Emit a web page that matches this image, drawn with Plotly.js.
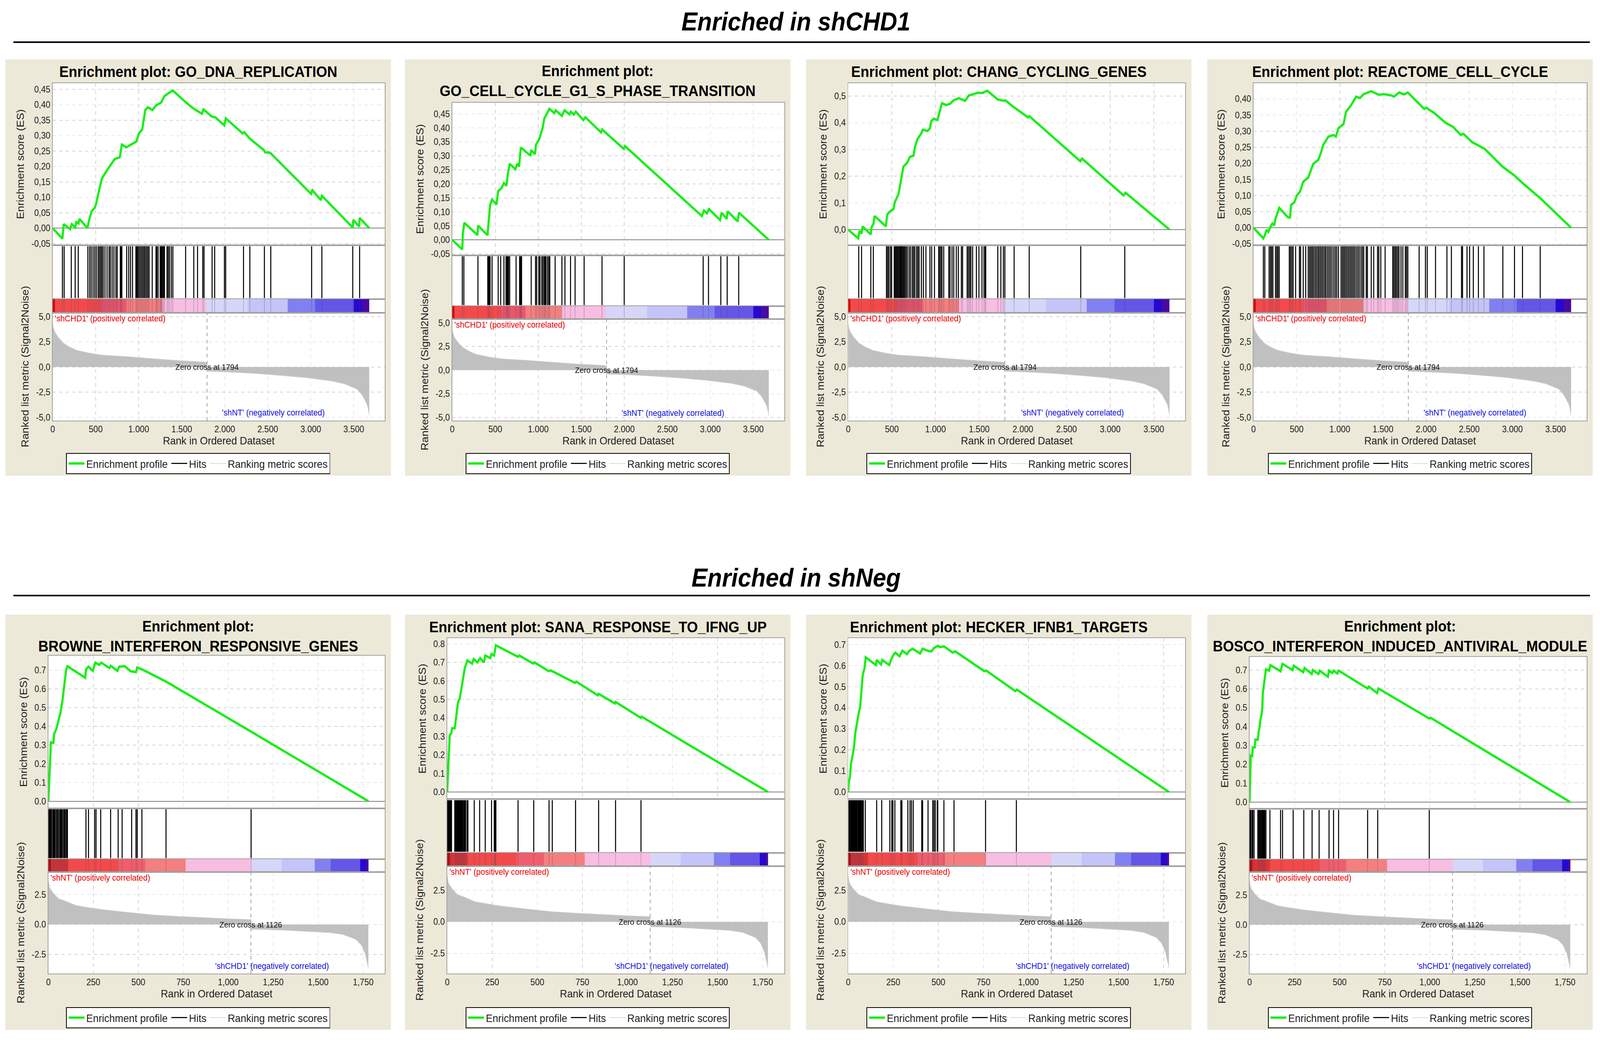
<!DOCTYPE html>
<html>
<head>
<meta charset="utf-8">
<script src="https://cdn.plot.ly/plotly-3.0.1.min.js"></script>
<style>
html, body { margin: 0; padding: 0; background: #fff; overflow: hidden; }
#chart { width: 4433px; height: 2681px; transform-origin: 0 0; }
</style>
</head>
<body>
<div id="chart"></div>
<script>
// ---- data ----
const sectionTitles = ['Enriched in shCHD1', 'Enriched in shNeg'];
const setNames = ['GO_DNA_REPLICATION', 'GO_CELL_CYCLE_G1_S_PHASE_TRANSITION', 'CHANG_CYCLING_GENES', 'REACTOME_CELL_CYCLE',
  'BROWNE_INTERFERON_RESPONSIVE_GENES', 'SANA_RESPONSE_TO_IFNG_UP', 'HECKER_IFNB1_TARGETS', 'BOSCO_INTERFERON_INDUCED_ANTIVIRAL_MODULE'];

// ranked list metric (same list for every panel of a row)
const rankTop = [0, 8, 24, 68, 128, 187, 276, 424, 572, 869, 1165, 1462, 1759, 1794, 1794, 2055, 2352, 2648, 2945, 3241, 3390, 3538, 3597, 3656, 3670, 3680];
const metricTop = [4.3, 3.9, 3.5, 2.9, 2.36, 2.03, 1.67, 1.39, 1.19, 1.03, 0.83, 0.64, 0.5, 0.45, -0.42, -0.5, -0.64, -0.83, -1.06, -1.39, -1.67, -2.2, -2.78, -3.75, -4.3, -4.8];
const rankBot = [0, 7, 28, 57, 99, 155, 226, 297, 438, 580, 721, 862, 1004, 1126, 1126, 1286, 1428, 1569, 1640, 1710, 1739, 1760, 1774, 1779];
const metricBot = [3.64, 3.07, 2.6, 2.16, 1.93, 1.59, 1.41, 1.25, 1.02, 0.8, 0.68, 0.57, 0.48, 0.41, -0.39, -0.45, -0.57, -0.68, -0.84, -1.25, -1.7, -2.39, -3.3, -3.64];
const zeroCross = [1794, 1126];
const posLabels = ["'shCHD1' (positively correlated)", "'shNT' (positively correlated)"];
const negLabels = ["'shNT' (negatively correlated)", "'shCHD1' (negatively correlated)"];

// colour bar bands (rank edges)
const bandEdgesTop = [0, 24, 560, 850, 1270, 1785, 2265, 2730, 3050, 3500, 3595, 3680];
const bandEdgesBot = [0, 14, 110, 385, 537, 763, 1127, 1296, 1480, 1569, 1734, 1767, 1779];

// running enrichment scores
const es1R = [0,113,128,202,222,261,276,300,311,403,424,454,489,504,528,572,632,691,721,780,804,854,913,973,1002,1041,1076,1106,1160,1201,1260,1299,1343,1397,1551,1640,1735,1753,1848,1892,1996,2011,2209,2227,2292,2455,2470,2530,3004,3019,3117,3129,3488,3494,3562,3568,3680];
const es1S = [0,-0.034,0.013,-0.003,0.013,0.002,0.02,0.015,0.03,0.0,0.027,0.056,0.066,0.078,0.109,0.161,0.188,0.212,0.224,0.23,0.271,0.262,0.271,0.281,0.307,0.32,0.383,0.392,0.383,0.398,0.407,0.428,0.437,0.446,0.407,0.387,0.371,0.385,0.362,0.359,0.333,0.356,0.307,0.311,0.29,0.253,0.246,0.244,0.111,0.123,0.091,0.105,0.002,0.027,0.005,0.033,0];
const es2R = [0,117,123,141,293,299,410,425,440,463,513,534,572,601,630,645,668,733,756,777,797,909,917,962,973,1011,1050,1070,1129,1187,1202,1275,1305,1363,1378,1413,1437,1524,1548,1730,1744,1994,2008,2902,2926,2961,2984,3113,3131,3190,3201,3319,3333,3680];
const es2S = [0,-0.034,0.022,0.061,0.017,0.051,0.017,0.075,0.125,0.144,0.126,0.174,0.185,0.203,0.193,0.232,0.272,0.252,0.272,0.262,0.33,0.301,0.321,0.306,0.34,0.36,0.399,0.433,0.468,0.453,0.463,0.443,0.463,0.448,0.458,0.448,0.458,0.428,0.438,0.384,0.394,0.325,0.335,0.085,0.105,0.095,0.11,0.071,0.097,0.075,0.102,0.066,0.097,0];
const es3R = [0,115,130,153,164,259,268,288,302,432,446,475,518,533,576,605,633,677,705,749,763,792,835,855,907,936,950,979,1022,1074,1123,1166,1209,1267,1339,1382,1483,1540,1592,1713,1785,1800,1886,2059,2073,2658,2678,3153,3176,3680];
const es3S = [0,-0.033,-0.005,-0.015,0.012,-0.018,0.01,0.02,0.051,0.012,0.056,0.067,0.077,0.102,0.133,0.184,0.236,0.251,0.272,0.277,0.307,0.338,0.359,0.374,0.369,0.379,0.405,0.415,0.41,0.473,0.466,0.471,0.484,0.492,0.482,0.502,0.512,0.512,0.52,0.487,0.482,0.484,0.461,0.42,0.425,0.256,0.266,0.128,0.138,0];
const es4R = [0,114,131,152,172,196,219,240,254,298,400,424,435,473,502,540,576,634,692,751,780,809,868,926,955,984,1043,1072,1131,1189,1233,1277,1364,1452,1510,1598,1627,1686,1744,1788,1978,2001,2095,2226,2314,2401,2431,2533,2679,2884,3015,3117,3322,3680];
const es4S = [0,-0.033,-0.023,-0.006,-0.013,0.003,0.013,0.007,0.028,0.062,0.032,0.032,0.071,0.079,0.1,0.113,0.143,0.156,0.198,0.211,0.232,0.258,0.283,0.288,0.283,0.309,0.322,0.36,0.381,0.407,0.403,0.415,0.424,0.413,0.415,0.411,0.407,0.42,0.414,0.42,0.369,0.373,0.356,0.326,0.313,0.288,0.292,0.266,0.245,0.19,0.164,0.139,0.092,0];
const es5R = [0,4,10,14,28,32,45,57,68,78,85,92,99,106,205,209,223,247,261,283,294,339,346,384,393,424,459,487,494,523,657,1123,1779];
const es5S = [0,0.094,0.241,0.315,0.312,0.359,0.388,0.44,0.476,0.535,0.594,0.668,0.704,0.722,0.66,0.704,0.719,0.697,0.741,0.729,0.741,0.712,0.724,0.697,0.719,0.722,0.694,0.69,0.715,0.704,0.638,0.374,0];
const es6R = [0,4,8,14,22,28,42,46,53,60,70,81,91,98,112,138,147,168,183,204,211,239,246,260,270,393,400,477,484,562,576,709,716,835,840,930,934,1074,1078,1779];
const es6S = [0,0.092,0.181,0.307,0.315,0.344,0.344,0.374,0.433,0.485,0.507,0.567,0.619,0.671,0.711,0.693,0.718,0.7,0.723,0.7,0.737,0.723,0.745,0.737,0.792,0.73,0.737,0.693,0.7,0.653,0.656,0.589,0.596,0.522,0.53,0.478,0.486,0.4,0.407,0];
const es7R = [0,4,10,15,24,32,39,49,57,66,74,81,91,97,154,158,182,189,228,238,252,262,285,301,327,336,357,399,413,441,462,476,497,510,531,580,594,755,765,927,936,1779];
const es7S = [0,0.048,0.074,0.133,0.172,0.211,0.277,0.335,0.368,0.401,0.499,0.557,0.59,0.64,0.603,0.627,0.606,0.627,0.603,0.629,0.653,0.662,0.645,0.671,0.655,0.668,0.681,0.658,0.681,0.671,0.668,0.684,0.695,0.688,0.692,0.662,0.668,0.574,0.577,0.479,0.486,0];
const es8R = [0,4,7,15,18,29,32,46,50,56,60,67,71,74,81,85,91,109,116,172,183,239,245,298,305,345,351,382,389,435,440,459,466,487,494,655,662,708,715,997,1004,1779];
const es8S = [0,0.131,0.247,0.244,0.29,0.29,0.331,0.331,0.37,0.399,0.435,0.464,0.501,0.581,0.624,0.653,0.704,0.697,0.726,0.694,0.733,0.7,0.723,0.689,0.711,0.679,0.7,0.679,0.697,0.665,0.697,0.685,0.697,0.682,0.697,0.602,0.612,0.578,0.602,0.443,0.447,0];

// hit positions (rank of each gene of the set)
const hits1 = [113,133,216,261,297,409,430,448,469,489,507,528,543,558,572,587,608,632,655,670,691,712,735,750,786,795,804,860,884,905,928,967,979,988,1002,1017,1032,1047,1062,1076,1091,1106,1121,1157,1201,1210,1225,1249,1260,1269,1278,1290,1299,1329,1343,1358,1379,1397,1545,1640,1684,1744,1759,1853,1883,1996,2011,2218,2292,2461,2535,3010,3129,3488,3568];
const hits2 = [117,135,299,413,422,431,440,463,534,563,601,625,636,645,654,668,742,783,791,800,806,918,968,982,1006,1020,1041,1055,1070,1079,1090,1108,1123,1134,1196,1275,1310,1375,1428,1533,1741,1999,2917,2979,3122,3196,3330];
const hits3 = [121,153,259,288,438,452,466,484,498,527,538,550,561,573,585,596,605,613,625,636,648,662,677,697,714,734,749,763,783,798,812,838,861,890,936,956,988,1037,1045,1060,1074,1094,1152,1166,1189,1209,1238,1261,1296,1310,1362,1376,1391,1405,1425,1468,1497,1532,1555,1569,1575,1713,1748,1777,1794,1900,2073,2663,3167];
const hits4 = [114,131,181,196,210,225,254,269,283,298,415,429,444,459,488,532,546,576,605,634,650,665,680,695,712,728,745,760,776,792,808,825,840,858,875,892,910,930,948,965,985,1014,1030,1045,1060,1076,1092,1108,1124,1140,1156,1172,1190,1208,1225,1245,1262,1277,1306,1320,1364,1393,1437,1452,1475,1525,1613,1627,1642,1656,1671,1686,1709,1730,1759,1773,1788,1919,1992,2013,2109,2241,2293,2410,2422,2474,2504,2547,2606,2670,2889,3024,3117,3322];
const hits5 = [3,7,11,14,17,24,28,33,38,45,51,57,64,68,73,78,85,90,96,102,106,209,223,257,265,291,346,388,410,463,487,494,520,654,1127];
const hits6 = [3,7,11,15,20,24,42,46,51,55,59,63,67,72,76,81,84,88,93,98,102,110,115,150,180,211,246,261,265,267,270,393,480,565,583,712,840,934,1075];
const hits7 = [4,8,13,17,21,25,29,34,38,42,46,50,55,59,63,67,71,76,80,84,95,158,186,231,242,248,259,292,298,331,343,351,361,408,413,443,469,476,483,494,497,531,587,762,933];
const hits8 = [3,7,14,18,25,46,50,55,60,64,69,73,77,81,85,91,113,172,183,242,301,347,386,441,466,494,655,711,997];

// tick labels as printed on the figure
const xTicksTop = [0, 500, 1000, 1500, 2000, 2500, 3000, 3500];
const xLabelsTop = ['0', '500', '1.000', '1.500', '2.000', '2.500', '3.000', '3.500'];
const xTicksBot = [0, 250, 500, 750, 1000, 1250, 1500, 1750];
const xLabelsBot = ['0', '250', '500', '750', '1,000', '1,250', '1,500', '1,750'];
const esTicksA = [-0.05, 0, 0.05, 0.1, 0.15, 0.2, 0.25, 0.3, 0.35, 0.4, 0.45];
const esLabelsA = ['-0,05', '0,00', '0,05', '0,10', '0,15', '0,20', '0,25', '0,30', '0,35', '0,40', '0,45'];
const esTicksB = [0, 0.1, 0.2, 0.3, 0.4, 0.5];
const esLabelsB = ['0,0', '0,1', '0,2', '0,3', '0,4', '0,5'];
const esTicksC = [-0.05, 0, 0.05, 0.1, 0.15, 0.2, 0.25, 0.3, 0.35, 0.4];
const esLabelsC = ['-0,05', '0,00', '0,05', '0,10', '0,15', '0,20', '0,25', '0,30', '0,35', '0,40'];
const esTicksD = [0, 0.1, 0.2, 0.3, 0.4, 0.5, 0.6, 0.7];
const esLabelsD = ['0.0', '0.1', '0.2', '0.3', '0.4', '0.5', '0.6', '0.7'];
const esTicksE = [0, 0.1, 0.2, 0.3, 0.4, 0.5, 0.6, 0.7, 0.8];
const esLabelsE = ['0.0', '0.1', '0.2', '0.3', '0.4', '0.5', '0.6', '0.7', '0.8'];
const mTicksTop = [-5, -2.5, 0, 2.5, 5];
const mLabelsTop = ['-5,0', '-2,5', '0,0', '2,5', '5,0'];
const mTicksBot = [-2.5, 0, 2.5];
const mLabelsBot = ['-2.5', '0.0', '2.5'];

// ---- styling / layout ----
const W = 4433, H = 2681;
const px = x => x / W;
const py = y => 1 - y / H;
const FONT = 'Liberation Sans, Arial, Helvetica, sans-serif';
const bandColorsTop = ['#d00000', '#f24a4a', '#e8566a', '#f47f7f', '#f8bde2', '#d6d6f8', '#c4c4f8', '#8080f0', '#6456e6', '#2808d0', '#4a0aa0'];
const bandColorsBot = ['#c80000', '#dc3434', '#f24a4a', '#ef5e6c', '#f47f7f', '#f8bde2', '#d6d6f8', '#c4c4f8', '#8080f0', '#6456e6', '#2808d0', '#4a0aa0'];

const esData = [[es1R, es1S], [es2R, es2S], [es3R, es3S], [es4R, es4S], [es5R, es5S], [es6R, es6S], [es7R, es7S], [es8R, es8S]];
const hitData = [hits1, hits2, hits3, hits4, hits5, hits6, hits7, hits8];
const esTickSets = [[esTicksA, esLabelsA], [esTicksB, esLabelsB], [esTicksC, esLabelsC], [esTicksD, esLabelsD], [esTicksE, esLabelsE]];

const rows = [
  {rank: rankTop, metric: metricTop, edges: bandEdgesTop, colors: bandColorsTop, xRange: [0, 3860], mRange: [-5.33, 5.41],
   xt: xTicksTop, xl: xLabelsTop, mt: mTicksTop, ml: mLabelsTop, top: 152, bottom: 1218, plotBottom: 1077},
  {rank: rankBot, metric: metricBot, edges: bandEdgesBot, colors: bandColorsBot, xRange: [0, 1870], mRange: [-4.1, 4.4],
   xt: xTicksBot, xl: xLabelsBot, mt: mTicksBot, ml: mLabelsBot, top: 1574, bottom: 2637, plotBottom: 2493}
];

const panels = [
  {row: 0, left: 15,   plotLeft: 146,  plotTop: 213,  twoLine: false, esRange: [-0.055, 0.47],  ticks: 0},
  {row: 0, left: 1122, plotLeft: 1253, plotTop: 263,  twoLine: true,  esRange: [-0.055, 0.49],  ticks: 0},
  {row: 0, left: 2233, plotLeft: 2350, plotTop: 213,  twoLine: false, esRange: [-0.058, 0.548], ticks: 1},
  {row: 0, left: 3345, plotLeft: 3473, plotTop: 213,  twoLine: false, esRange: [-0.054, 0.449], ticks: 2},
  {row: 1, left: 15,   plotLeft: 134,  plotTop: 1679, twoLine: true,  esRange: [-0.038, 0.778], ticks: 3},
  {row: 1, left: 1122, plotLeft: 1239, plotTop: 1634, twoLine: false, esRange: [-0.039, 0.831], ticks: 4},
  {row: 1, left: 2233, plotLeft: 2350, plotTop: 1634, twoLine: false, esRange: [-0.034, 0.731], ticks: 3},
  {row: 1, left: 3345, plotLeft: 3462, plotTop: 1682, twoLine: true,  esRange: [-0.036, 0.77],  ticks: 3}
];
const PANEL_W = 1068;

const traces = [];
const layout = {
  width: W, height: H,
  margin: {l: 0, r: 0, t: 0, b: 0},
  paper_bgcolor: '#ffffff',
  plot_bgcolor: 'rgba(0,0,0,0)',
  font: {family: FONT, color: '#222', size: 23},
  hovermode: false,
  shapes: [],
  annotations: []
};

// section headers
[[55, 108], [1479, 1525]].forEach(([ty, ly], i) => {
  layout.annotations.push({xref: 'paper', yref: 'paper', x: px(2205), y: py(ty), xanchor: 'center', yanchor: 'middle',
    text: sectionTitles[i], showarrow: false, font: {size: 66, weight: 'bold', style: 'italic', color: '#000'}});
  layout.shapes.push({type: 'line', xref: 'paper', yref: 'paper', x0: px(37), x1: px(4405), y0: py(ly), y1: py(ly),
    line: {color: '#000', width: 4}});
});

const axName = (l, k) => l + (k === 1 ? '' : k);

panels.forEach((p, i) => {
  const r = rows[p.row];
  const plotRight = p.left + 1051;
  const h = r.plotBottom - p.plotTop;
  const cut = f => p.plotTop + f * h;
  const yDomains = [
    [py(cut(0.48)), py(p.plotTop)],
    [py(cut(0.64)), py(cut(0.48))],
    [py(cut(0.68)), py(cut(0.64))],
    [py(r.plotBottom), py(cut(0.68))]
  ];
  const n = [i * 4 + 1, i * 4 + 2, i * 4 + 3, i * 4 + 4];
  const leg = i === 0 ? 'legend' : 'legend' + (i + 1);
  const xd = [px(p.plotLeft), px(plotRight)];

  // panel background and white plot area
  layout.shapes.push({type: 'rect', xref: 'paper', yref: 'paper', layer: 'below',
    x0: px(p.left), x1: px(p.left + PANEL_W), y0: py(r.bottom), y1: py(r.top),
    fillcolor: '#ece9d8', line: {width: 0}});
  layout.shapes.push({type: 'rect', xref: 'paper', yref: 'paper', layer: 'below',
    x0: xd[0], x1: xd[1], y0: py(r.plotBottom), y1: py(p.plotTop),
    fillcolor: '#ffffff', line: {width: 0}});

  const [esT, esL] = esTickSets[p.ticks];
  const baseX = {range: r.xRange, domain: xd, showline: true, mirror: true, linecolor: '#a0a0a0', linewidth: 2,
    zeroline: false, ticks: '', showticklabels: false, showgrid: false, fixedrange: true,
    tickmode: 'array', tickvals: r.xt};
  const baseY = {showline: true, mirror: true, linecolor: '#a0a0a0', linewidth: 2, zeroline: false,
    ticks: '', showticklabels: false, showgrid: false, fixedrange: true};
  const grid = {showgrid: true, gridcolor: '#d4d4d4', gridwidth: 1.5, griddash: 'dash'};
  const tickFont = {size: 23, color: '#222'};
  const titleFont = {size: 28, color: '#222'};

  // ES subplot
  layout[axName('xaxis', n[0])] = Object.assign({}, baseX, grid, {anchor: axName('y', n[0])});
  layout[axName('yaxis', n[0])] = Object.assign({}, baseY, grid, {anchor: axName('x', n[0]), domain: yDomains[0],
    range: p.esRange, tickmode: 'array', tickvals: esT, ticktext: esL, showticklabels: true,
    zeroline: true, zerolinecolor: '#808080', zerolinewidth: 2, tickfont: tickFont,
    title: {text: 'Enrichment score (ES)', font: titleFont, standoff: 12}});
  // hits subplot
  layout[axName('xaxis', n[1])] = Object.assign({}, baseX, {anchor: axName('y', n[1])});
  layout[axName('yaxis', n[1])] = Object.assign({}, baseY, {anchor: axName('x', n[1]), domain: yDomains[1], range: [0, 1]});
  // colour bar subplot
  layout[axName('xaxis', n[2])] = Object.assign({}, baseX, {anchor: axName('y', n[2])});
  layout[axName('yaxis', n[2])] = Object.assign({}, baseY, {anchor: axName('x', n[2]), domain: yDomains[2], range: [0, 1]});
  // ranked metric subplot
  layout[axName('xaxis', n[3])] = Object.assign({}, baseX, grid, {anchor: axName('y', n[3]), showticklabels: true,
    ticktext: r.xl, tickfont: tickFont,
    title: {text: 'Rank in Ordered Dataset', font: titleFont, standoff: 8}});
  layout[axName('yaxis', n[3])] = Object.assign({}, baseY, grid, {anchor: axName('x', n[3]), domain: yDomains[3],
    range: r.mRange, tickmode: 'array', tickvals: r.mt, ticktext: r.ml, showticklabels: true, tickfont: tickFont,
    title: {text: 'Ranked list metric (Signal2Noise)', font: titleFont, standoff: 12}});

  // traces
  traces.push({type: 'scatter', mode: 'lines', x: r.rank, y: r.metric, fill: 'tozeroy', fillcolor: '#c0c0c0',
    line: {width: 0, color: '#c0c0c0'}, showlegend: false, legend: leg,
    xaxis: axName('x', n[3]), yaxis: axName('y', n[3])});
  traces.push({type: 'scatter', mode: 'lines', x: esData[i][0], y: esData[i][1], name: 'Enrichment profile',
    line: {color: '#19ee19', width: 6}, legend: leg, xaxis: axName('x', n[0]), yaxis: axName('y', n[0])});
  const hx = [], hy = [], cx = [], cy = [];
  hitData[i].forEach(v => {
    hx.push(v, v, null); hy.push(0.02, 0.98, null);
    cx.push(v, v, null); cy.push(0, 1, null);
  });
  traces.push({type: 'scatter', mode: 'lines', x: hx, y: hy, name: 'Hits', connectgaps: false,
    line: {color: '#000000', width: 2.8}, legend: leg, xaxis: axName('x', n[1]), yaxis: axName('y', n[1])});
  const nb = r.colors.length;
  traces.push({type: 'heatmap', x: r.edges, y: [0, 1], z: [r.colors.map((c, k) => k)], zmin: 0, zmax: nb - 1,
    colorscale: r.colors.map((c, k) => [k / (nb - 1), c]), showscale: false, showlegend: false,
    xaxis: axName('x', n[2]), yaxis: axName('y', n[2])});
  // faint hit ticks running through the colour bar
  traces.push({type: 'scatter', mode: 'lines', x: cx, y: cy, showlegend: false, legend: leg,
    line: {color: 'rgba(90,60,90,0.28)', width: 2}, xaxis: axName('x', n[2]), yaxis: axName('y', n[2])});
  traces.push({type: 'scatter', mode: 'lines', x: r.rank, y: r.metric, name: 'Ranking metric scores',
    line: {color: '#cfcfcf', width: 1.5}, legend: leg, xaxis: axName('x', n[3]), yaxis: axName('y', n[3])});

  // zero cross marker
  layout.shapes.push({type: 'line', xref: axName('x', n[3]), yref: axName('y', n[3]) + ' domain',
    x0: zeroCross[p.row], x1: zeroCross[p.row], y0: 0, y1: 1, line: {color: '#9a9a9a', width: 2, dash: 'dash'}});

  // texts
  layout.annotations.push({xref: 'paper', yref: 'paper', x: px(p.left + 534), y: py(r.top + (p.twoLine ? 55 : 31)),
    xanchor: 'center', yanchor: 'middle', showarrow: false,
    text: p.twoLine ? 'Enrichment plot:<br>' + setNames[i] : 'Enrichment plot: ' + setNames[i],
    font: {size: 39, weight: 'bold', color: '#000'}});
  layout.annotations.push({xref: axName('x', n[3]) + ' domain', yref: axName('y', n[3]) + ' domain', x: 0.004, y: 1,
    xanchor: 'left', yanchor: 'top', showarrow: false, text: posLabels[p.row],
    font: {size: 22, color: '#ee0000'}});
  layout.annotations.push({xref: axName('x', n[3]) + ' domain', yref: axName('y', n[3]) + ' domain', x: 0.665, y: 0.02,
    xanchor: 'center', yanchor: 'bottom', showarrow: false, text: negLabels[p.row],
    font: {size: 22, color: '#1010e0'}});
  layout.annotations.push({xref: axName('x', n[3]), yref: axName('y', n[3]), x: zeroCross[p.row], y: 0,
    xanchor: 'center', yanchor: 'middle', showarrow: false, text: 'Zero cross at ' + zeroCross[p.row],
    font: {size: 21, color: '#111'}});

  // legend box
  layout[leg] = {x: px(p.left + 534), xanchor: 'center', y: py(r.bottom - 4), yanchor: 'bottom', xref: 'paper', yref: 'paper',
    orientation: 'h', bgcolor: '#ffffff', bordercolor: '#000000', borderwidth: 2, traceorder: 'normal',
    font: {size: 28, color: '#222', family: FONT}, itemwidth: 44};
});

Plotly.newPlot('chart', traces, layout, {staticPlot: true}).then(() => {
  // the window we get may be smaller than the figure: squeeze the finished drawing into it
  const sx = (window.innerWidth || W) / W, sy = (window.innerHeight || H) / H;
  if (Math.abs(sx - 1) > 0.001 || Math.abs(sy - 1) > 0.001) {
    document.getElementById('chart').style.transform = 'scale(' + sx + ',' + sy + ')';
  }
});
</script>
</body>
</html>
